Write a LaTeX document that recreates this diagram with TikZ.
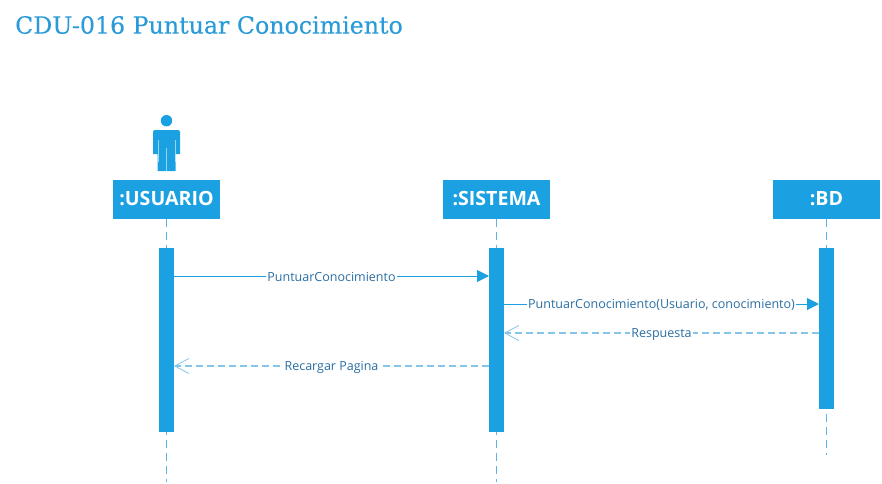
\documentclass[tikz,border=0pt]{standalone}
\usepackage{fontspec}
\setmainfont{Open Sans}
\newfontfamily\titlefont[FakeBold=0.25]{DejaVu Serif}
\usetikzlibrary{arrows.meta,calc}
\definecolor{umlblue}{HTML}{1BA1E2}
\definecolor{dashblue}{HTML}{84C5E9}
\definecolor{lifeblue}{HTML}{5DB5E6}
\definecolor{labelblue}{HTML}{2A6EA3}
\definecolor{titleblue}{HTML}{2A9BD8}
\tikzset{
  x=1pt,y=-1pt,
  header/.style={fill=umlblue,text=white,font=\bfseries\fontsize{19.6}{22}\selectfont,minimum width=107pt,minimum height=39pt,inner sep=0pt,anchor=center},
  activation/.style={fill=umlblue,minimum width=15pt,inner sep=0pt,outer sep=0pt,anchor=north},
  lifeline/.style={draw=lifeblue,line width=0.9pt,dash pattern=on 8pt off 5pt},
  syncmsg/.style={draw=umlblue,line width=1pt,-{Triangle[length=12pt,width=12pt,fill=umlblue]}},
  replymsg/.style={draw=dashblue,line width=1.3pt,dash pattern=on 7pt off 4pt,-{Straight Barb[length=14pt,width=15pt,line width=0.8pt,color=dashblue]}},
  msglabel/.style={fill=white,text=labelblue,font=\fontsize{12.5}{14}\selectfont,inner xsep=1pt,inner ysep=0pt,pos=0.5,yshift=-1.3pt},
  titletext/.style={text=titleblue,font=\titlefont\fontsize{23.7}{28}\selectfont,inner sep=0pt,anchor=west}
}
\begin{document}
\begin{tikzpicture}
\useasboundingbox (0,0) rectangle (882,483);
\node[titletext] (title) at (15,25) {CDU-016 Puntuar Conocimiento};

\coordinate (endU) at (166.5,482);
\coordinate (endS) at (496.5,482);
\coordinate (endB) at (826.5,455);

\node[header] (usuario) at (166.5,199) {:USUARIO};
\node[header] (sistema) at (496.5,199) {:SISTEMA};
\node[header] (bd) at (826.5,199) {:BD};

\draw[lifeline] (usuario.south) -- (endU);
\draw[lifeline] (sistema.south) -- (endS);
\draw[lifeline] (bd.south) -- (endB);

\node[activation,minimum height=184pt] (actU) at (166.5,248) {};
\node[activation,minimum height=184pt] (actS) at (496.5,248) {};
\node[activation,minimum height=161pt] (actB) at (826.5,248) {};

% actor
\fill[umlblue] (166.5,120.7) circle (5.7);
\fill[umlblue] (153,154) [rounded corners=2pt] -- (153,130) -- (180,130) [sharp corners] -- (180,154) -- (175.5,154) -- (175.5,171) -- (157.5,171) -- (157.5,154) -- cycle;
\draw[white,opacity=0.55,line width=0.7pt] (158,140) -- (158,162) (175,140) -- (175,162) (166.5,148) -- (166.5,171);

\draw[syncmsg] (actU.east |- 0,276) -- node[msglabel] (m1) {PuntuarConocimiento} (actS.west |- 0,276);
\draw[syncmsg] (actS.east |- 0,304) -- node[msglabel] (m2) {PuntuarConocimiento(Usuario, conocimiento)} (actB.west |- 0,304);
\draw[replymsg] (actB.west |- 0,333) -- node[msglabel] (m3) {Respuesta} (actS.east |- 0,333);
\draw[replymsg] (actS.west |- 0,366) -- node[msglabel] (m4) {Recargar Pagina} (actU.east |- 0,366);
\end{tikzpicture}
\end{document}
